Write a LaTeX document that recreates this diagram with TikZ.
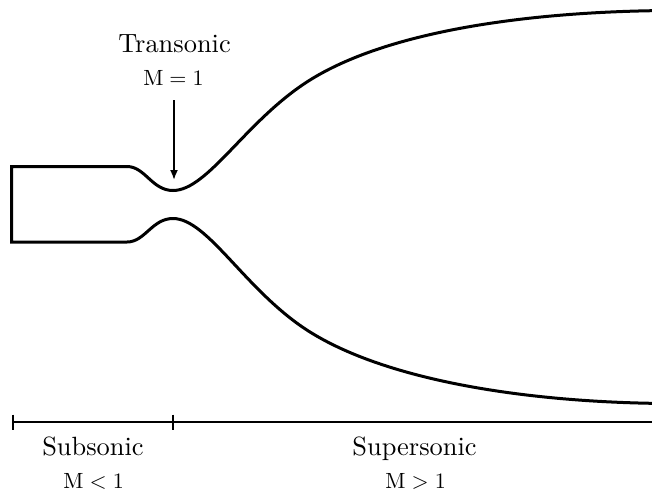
\documentclass[tikz,border=0pt]{standalone}
\usetikzlibrary{arrows.meta}
\tikzset{
  wall/.style={line width=3pt,line join=miter},
  axisline/.style={line width=1.8pt},
  big/.style={inner sep=0pt,anchor=base,scale=2.64},
  small/.style={inner sep=0pt,anchor=base,scale=2.2},
}
\begin{document}
\begin{tikzpicture}[x=1pt,y=-1pt]
\useasboundingbox (0,0) rectangle (652,491);
% nozzle
\draw[wall] (127,166.5) -- (11.5,166.5) -- (11.5,242) -- (127,242)
  .. controls (145,242) and (152,218.5) .. (173,218.5)
  .. controls (208,218.5) and (246,292) .. (310,332)
  .. controls (386.5,379.7) and (520,401) .. (652,403.3);
\draw[wall] (127,166.5)
  .. controls (145,166.5) and (152,190.5) .. (173,190.5)
  .. controls (208,190.5) and (246,120) .. (310,80)
  .. controls (386.5,32.3) and (520,13) .. (652,10.7);
% labels
\node[big] (trans) at (174.5,52) {Transonic};
\node[small] (m1) at (173.5,85.7) {$\mathrm{M}=1$};
\coordinate (throat) at (174,180);
\draw[axisline,-{Latex[length=10pt,width=8pt]}] (174,100) -- (throat);
% axis
\coordinate (axL) at (13,422);
\coordinate (axM) at (173,422);
\coordinate (axR) at (652,422);
\draw[axisline] (axL) -- (axR);
\draw[axisline] (13,414.5) -- (13,429.5);
\draw[axisline] (173,414.5) -- (173,429.5);
\node[big] (sub) at (93,455) {Subsonic};
\node[big] (sup) at (414.5,455) {Supersonic};
\node[small] (ml) at (93.5,488) {$\mathrm{M}<1$};
\node[small] (mg) at (415.5,488) {$\mathrm{M}>1$};
\end{tikzpicture}
\end{document}
